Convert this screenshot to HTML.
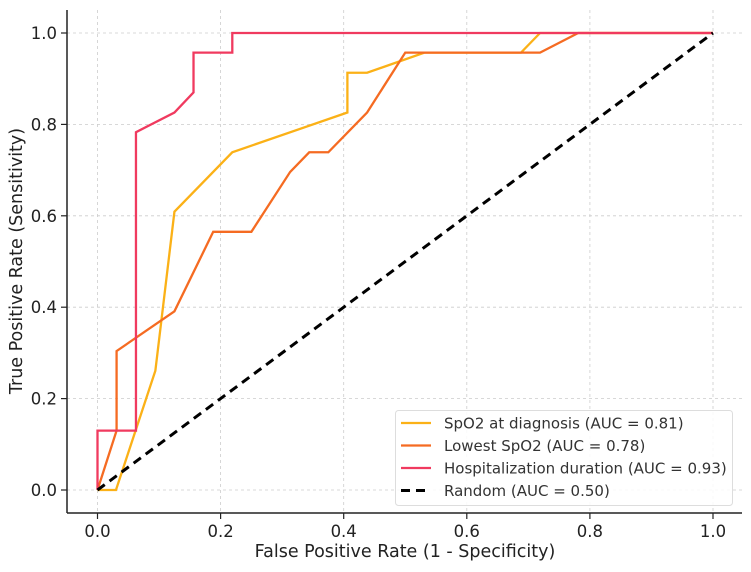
<!DOCTYPE html>
<html><head><meta charset="utf-8"><style>
body{margin:0;background:#fff}
svg{display:block;font-family:"DejaVu Sans","Liberation Sans",sans-serif}
</style></head><body>
<svg id="chart" width="751" height="572" viewBox="0 0 751 572" xmlns="http://www.w3.org/2000/svg">
<g id="grid"></g>
<g id="series"></g>
<g id="axes"></g>
<text x="405" y="557" text-anchor="middle" font-size="17.5" fill="#222">False Positive Rate (1 - Specificity)</text>
<text transform="translate(22,261) rotate(-90)" text-anchor="middle" font-size="17.5" fill="#222">True Positive Rate (Sensitivity)</text>
<g id="legend"></g>
</svg>
<script>
const ticks = [0, 0.2, 0.4, 0.6, 0.8, 1.0];
const tickLabels = ["0.0", "0.2", "0.4", "0.6", "0.8", "1.0"];
const seriesNames = ["SpO2 at diagnosis (AUC = 0.81)", "Lowest SpO2 (AUC = 0.78)", "Hospitalization duration (AUC = 0.93)", "Random (AUC = 0.50)"];
const spo2Fpr = [0, 0.03, 0.094, 0.125, 0.219, 0.406, 0.406, 0.438, 0.531, 0.688, 0.719, 1];
const spo2Tpr = [0, 0, 0.261, 0.609, 0.739, 0.826, 0.913, 0.913, 0.957, 0.957, 1, 1];
const lowFpr = [0, 0.031, 0.031, 0.125, 0.188, 0.25, 0.313, 0.344, 0.375, 0.438, 0.5, 0.719, 0.781, 1];
const lowTpr = [0, 0.13, 0.304, 0.391, 0.565, 0.565, 0.696, 0.739, 0.739, 0.826, 0.957, 0.957, 1, 1];
const hospFpr = [0, 0, 0.0625, 0.0625, 0.125, 0.156, 0.156, 0.219, 0.219, 1];
const hospTpr = [0, 0.13, 0.13, 0.783, 0.826, 0.87, 0.957, 0.957, 1, 1];
const randFpr = [0, 1];
const randTpr = [0, 1];

const NS = "http://www.w3.org/2000/svg";
const X = v => 97.5 + v * 615.5;
const Y = v => 490 - v * 457;
function mk(tag, attrs, parent) {
  const e = document.createElementNS(NS, tag);
  for (const k in attrs) e.setAttribute(k, attrs[k]);
  parent.appendChild(e);
  return e;
}
const grid = document.getElementById('grid'), axes = document.getElementById('axes');
const series = document.getElementById('series'), legend = document.getElementById('legend');
ticks.forEach((t, i) => {
  let g = mk('line', {x1: X(t), x2: X(t), y1: 10, y2: 513, stroke: '#ccc', 'stroke-dasharray': '3,3', 'stroke-width': 0.8}, grid);
  
  
  g = mk('line', {x1: 67, x2: 742, y1: Y(t), y2: Y(t), stroke: '#ccc', 'stroke-dasharray': '3,3', 'stroke-width': 0.8}, grid);
  
  
  let tk = mk('line', {x1: X(t), x2: X(t), y1: 513, y2: 519, stroke: '#222', 'stroke-width': 1.2}, axes);
  
  
  let tx = mk('text', {x: X(t), y: 537, 'text-anchor': 'middle', 'font-size': 16.5, fill: '#222'}, axes);
  tx.textContent = tickLabels[i];
  
  
  tk = mk('line', {x1: 61, x2: 67, y1: Y(t), y2: Y(t), stroke: '#222', 'stroke-width': 1.2}, axes);
  
  
  tx = mk('text', {x: 57, y: Y(t) + 6, 'text-anchor': 'end', 'font-size': 16.5, fill: '#222'}, axes);
  tx.textContent = tickLabels[i];
  
  
});
let sp = mk('line', {x1: 67, x2: 67, y1: 10, y2: 513, stroke: '#222', 'stroke-width': 1.5}, axes);


sp = mk('line', {x1: 67, x2: 742, y1: 513, y2: 513, stroke: '#222', 'stroke-width': 1.5}, axes);



const defs = [
  [spo2Fpr, spo2Tpr, '#fbb117', '', 'spo2-diagnosis-curve'],
  [lowFpr, lowTpr, '#f56b22', '', 'lowest-spo2-curve'],
  [hospFpr, hospTpr, '#f03a5f', '', 'hospitalization-curve'],
  [randFpr, randTpr, '#000', '9,6', 'random-line']
];
defs.forEach((d, i) => {
  const pts = d[0].map((v, j) => X(v) + ',' + Y(d[1][j])).join(' ');
  const p = mk('polyline', {points: pts, fill: 'none', stroke: d[2], 'stroke-width': i === 3 ? 3 : 2.3, 'stroke-dasharray': d[3] || 'none'}, series);
  
  
});
const box = mk('rect', {x: 395.5, y: 410.5, width: 337, height: 95, rx: 3, fill: '#fff', 'fill-opacity': 0.85, stroke: '#ddd'}, legend);


defs.forEach((d, i) => {
  const y = 423 + i * 22.5;
  const l = mk('line', {x1: 401, x2: 431, y1: y, y2: y, stroke: d[2], 'stroke-width': i === 3 ? 3 : 2.3, 'stroke-dasharray': d[3] || 'none'}, legend);
  
  
  const t = mk('text', {x: 444, y: y + 5.5, 'font-size': 15, fill: '#333'}, legend);
  t.textContent = seriesNames[i];
  
  
});
</script>
</body></html>
